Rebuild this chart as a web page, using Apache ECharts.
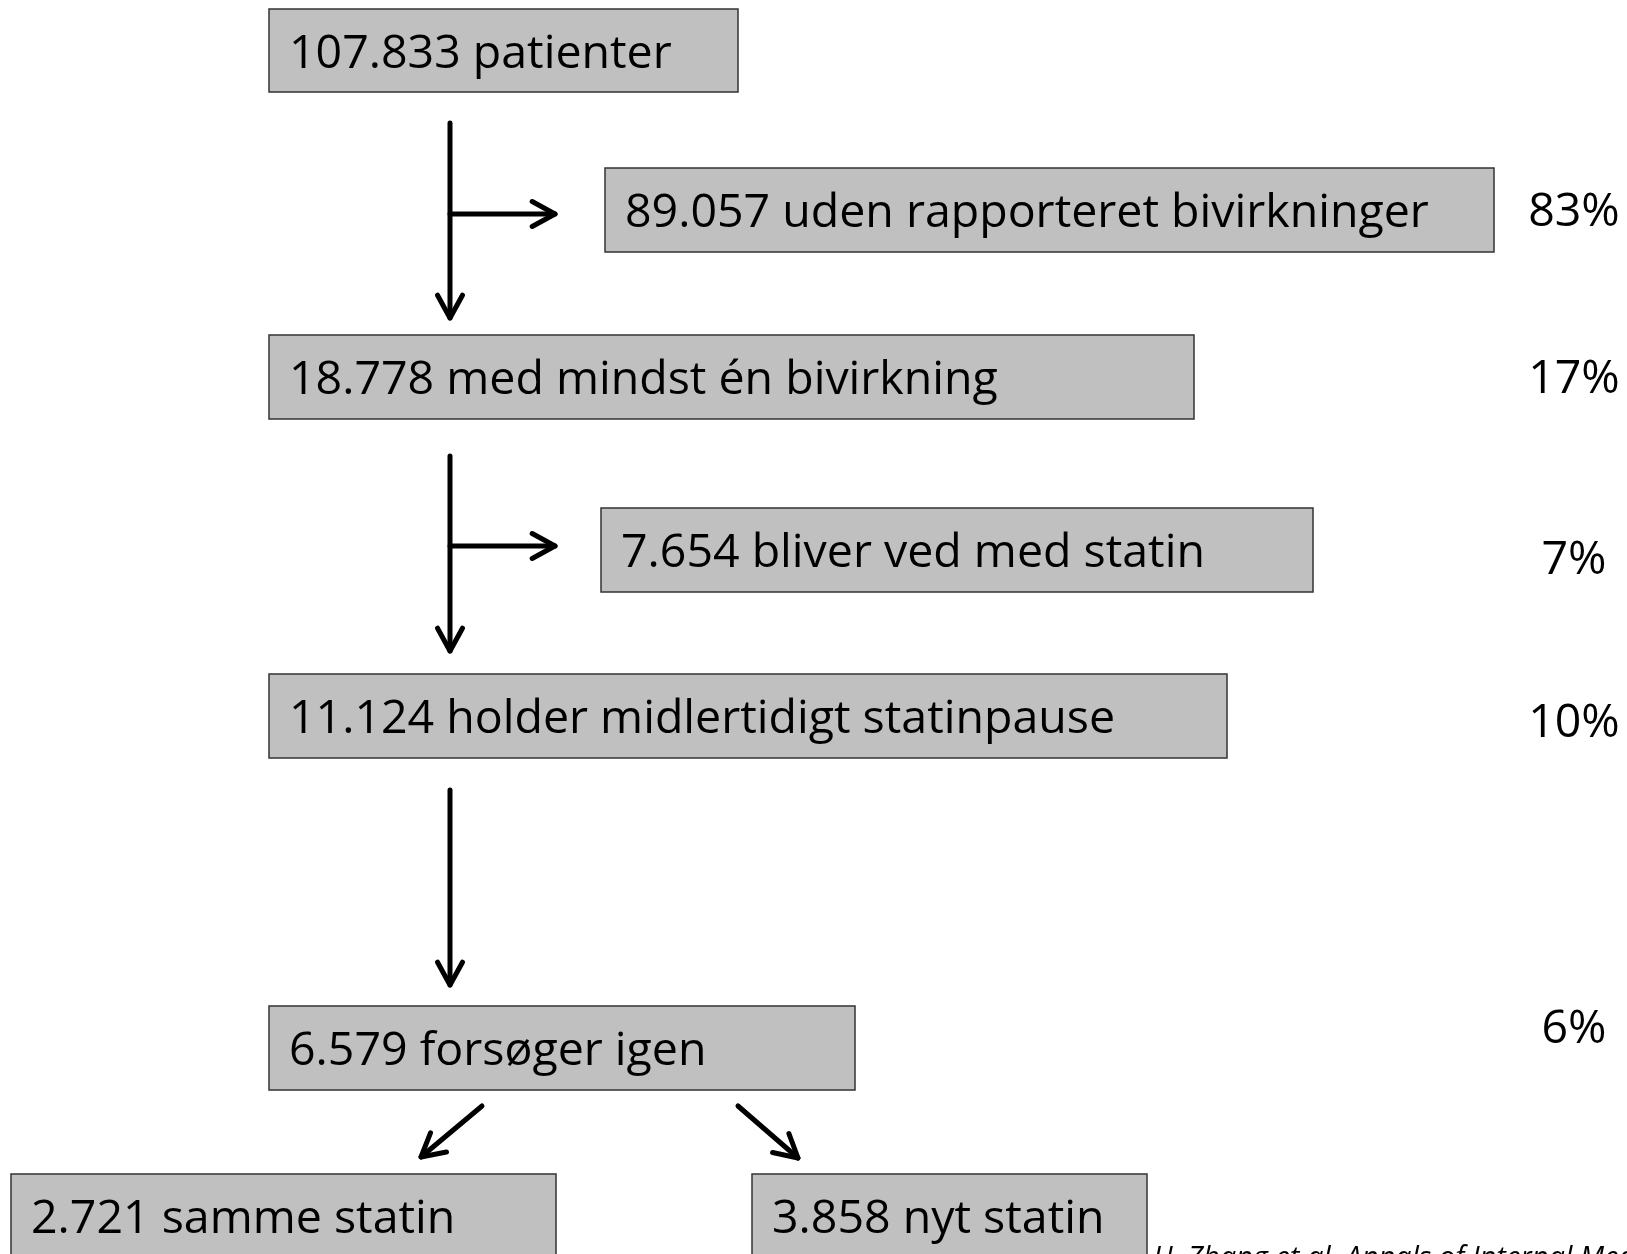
<!DOCTYPE html>
<html>
<head>
<meta charset="utf-8">
<script src="https://cdn.jsdelivr.net/npm/echarts@6/dist/echarts.min.js"></script>
<style>
html, body { margin: 0; padding: 0; background: #fff; }
#chart { width: 1627px; height: 1254px; }
</style>
</head>
<body>
<div id="chart"></div>
<script>
// flowchart data
var counts = [107833, 89057, 18778, 7654, 11124, 6579, 2721, 3858];
var labels = ['patienter', 'uden rapporteret bivirkninger', 'med mindst én bivirkning',
	'bliver ved med statin', 'holder midlertidigt statinpause', 'forsøger igen',
	'samme statin', 'nyt statin'];
var percents = [83, 17, 7, 10, 6];
var citation = 'H. Zhang et al. Annals of Internal Medicine';

// layout (diagram coordinates = pixels)
var boxX0 = [269, 605, 269, 601, 269, 269, 11, 752];
var boxX1 = [738, 1494, 1194, 1313, 1227, 855, 556, 1147];
var boxY0 = [9, 168, 335, 508, 674, 1006, 1174, 1174];
var boxY1 = [92, 252, 419, 592, 758, 1090, 1270, 1270];
var pctX = 1574;
var pctY = [213, 380, 561, 724, 1030];
// arrows: x1, y1, x2, y2
var arrows = [
	[450, 123, 450, 318], [450, 214, 555, 214],
	[450, 456, 450, 651], [450, 546, 555, 546],
	[450, 790, 450, 985],
	[482, 1106, 421, 1157], [738, 1106, 798, 1158]
];

var FONT = '"Open Sans", Lato, sans-serif';
var FSIZE = 46.5;

function fmt(n) {
	return String(n).replace(/\B(?=(\d{3})+(?!\d))/g, '.');
}

var boxData = [];
for (var i = 0; i < counts.length; i++) {
	boxData.push([boxX0[i], boxY0[i], boxX1[i], boxY1[i], fmt(counts[i]) + ' ' + labels[i]]);
}
var pctData = [];
for (var i = 0; i < percents.length; i++) {
	pctData.push([pctX, pctY[i], percents[i] + '%']);
}

var myChart = echarts.init(document.getElementById('chart'));

var option = {
	animation: false,
	grid: { left: 0, right: 0, top: 0, bottom: 0 },
	xAxis: { type: 'value', min: 0, max: 1627, show: false },
	yAxis: { type: 'value', min: 0, max: 1254, inverse: true, show: false },
	series: [
		{
			type: 'custom',
			clip: false,
			data: boxData,
			renderItem: function (params, api) {
				var p0 = api.coord([api.value(0), api.value(1)]);
				var p1 = api.coord([api.value(2), api.value(3)]);
				var txt = boxData[params.dataIndex][4];
				return {
					type: 'group',
					children: [{
						type: 'rect',
						shape: { x: p0[0], y: p0[1], width: p1[0] - p0[0], height: p1[1] - p0[1] },
						style: { fill: '#c0c0c0', stroke: '#333', lineWidth: 1.5 }
					}, {
						type: 'text',
						x: p0[0] + 20,
						y: api.coord([0, api.value(1) + 46])[1],
						style: { text: txt, font: FSIZE + 'px ' + FONT, fill: '#000', verticalAlign: 'middle', align: 'left' }
					}]
				};
			}
		},
		{
			type: 'custom',
			clip: false,
			data: arrows,
			renderItem: function (params, api) {
				var a = api.coord([api.value(0), api.value(1)]);
				var b = api.coord([api.value(2), api.value(3)]);
				var ang = Math.atan2(b[1] - a[1], b[0] - a[0]);
				var len = 26, spread = 0.5;
				var h1 = [b[0] - len * Math.cos(ang - spread), b[1] - len * Math.sin(ang - spread)];
				var h2 = [b[0] - len * Math.cos(ang + spread), b[1] - len * Math.sin(ang + spread)];
				var st = { stroke: '#000', lineWidth: 5, lineCap: 'round', lineJoin: 'round', fill: null };
				return {
					type: 'group',
					children: [
						{ type: 'line', shape: { x1: a[0], y1: a[1], x2: b[0], y2: b[1] }, style: st },
						{ type: 'polyline', shape: { points: [h1, b, h2] }, style: st }
					]
				};
			}
		},
		{
			type: 'custom',
			clip: false,
			data: pctData,
			renderItem: function (params, api) {
				var p = api.coord([api.value(0), api.value(1)]);
				return {
					type: 'text',
					x: p[0], y: p[1],
					style: { text: pctData[params.dataIndex][2], font: FSIZE + 'px ' + FONT, fill: '#000', align: 'center', verticalAlign: 'middle' }
				};
			}
		}
	],
	graphic: [{
		type: 'text',
		left: 1153,
		top: 1244,
		style: { text: citation, font: 'italic 29px ' + FONT, fill: '#000' }
	}]
};

myChart.setOption(option);
</script>
</body>
</html>
